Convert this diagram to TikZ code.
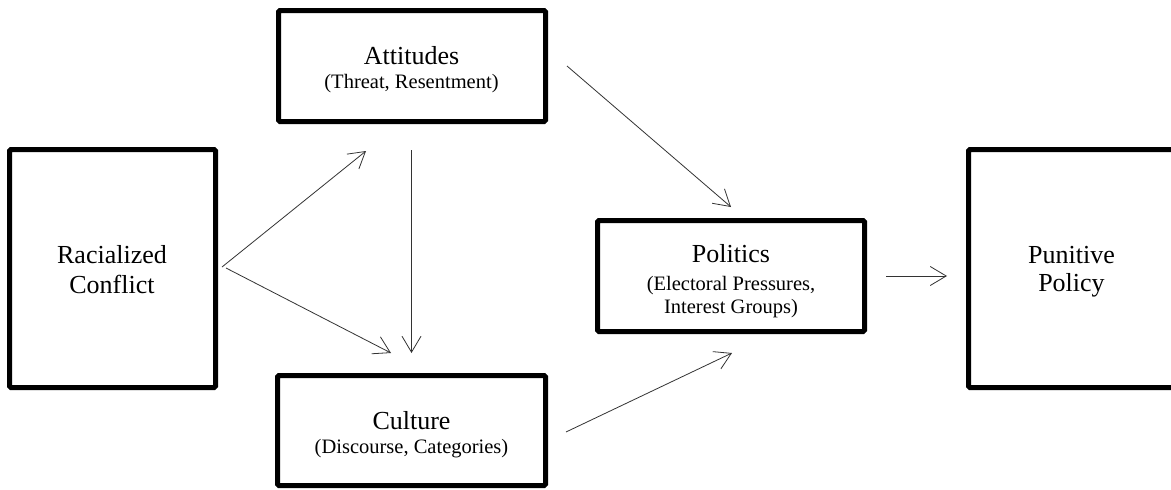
\documentclass[tikz,border=0pt]{standalone}
\usepackage{fontspec}
\setmainfont{Liberation Serif}
\usetikzlibrary{arrows.meta}
\begin{document}
\begin{tikzpicture}[x=1pt,y=-1pt,
  box/.style={draw=black, line width=5pt, rounded corners=1.5pt, inner sep=0pt, fill=white},
  ttl/.style={font=\fontsize{26}{30}\selectfont, inner sep=0pt, anchor=base},
  sub/.style={font=\fontsize{20.5}{24}\selectfont, inner sep=0pt, anchor=base},
  conn/.style={draw=black!80, line width=0.8pt, -{Straight Barb[length=16pt,width=19pt]}}]
\useasboundingbox (0,0) rectangle (1171,490);
\fill[white] (0,0) rectangle (1171,490);
% boxes
\node[box, minimum width=206pt, minimum height=238pt] (rc) at (112.5,268.5) {};
\node[box, minimum width=267pt, minimum height=111pt] (att) at (412,66) {};
\node[box, minimum width=268pt, minimum height=110pt] (cul) at (411.5,430.5) {};
\node[box, minimum width=267pt, minimum height=111pt] (pol) at (731,276) {};
\node[box, minimum width=206pt, minimum height=238pt] (pun) at (1071.5,268.5) {};
% texts
\node[ttl] (rct1) at (112,263.3) {Racialized};
\node[ttl] (rct2) at (112,293.3) {Conflict};
\node[ttl] (att1) at (411.5,64.3) {Attitudes};
\node[sub] (att2) at (411.5,88.3) {(Threat, Resentment)};
\node[ttl] (cul1) at (411.5,429) {Culture};
\node[sub] (cul2) at (411.5,453) {(Discourse, Categories)};
\node[ttl] (pol1) at (731,262.7) {Politics};
\node[sub] (pol2) at (731,290.7) {(Electoral Pressures,};
\node[sub] (pol3) at (731,313.3) {Interest Groups)};
\node[ttl] (pun1) at (1071.5,263) {Punitive};
\node[ttl] (pun2) at (1071.5,291.7) {Policy};
% connector ends
\coordinate (a1s) at (222,267);
\coordinate (a1e) at (366,151);
\coordinate (a2s) at (226,268);
\coordinate (a2e) at (391,353);
\coordinate (a3s) at (411.5,150);
\coordinate (a3e) at (411.5,353);
\coordinate (a4s) at (567,66);
\coordinate (a4e) at (731,207);
\coordinate (a5s) at (566,432);
\coordinate (a5e) at (732,353);
\coordinate (a6s) at (886,276);
\coordinate (a6e) at (947,276);
% connectors
\draw[conn] (a1s) -- (a1e);
\draw[conn] (a2s) -- (a2e);
\draw[conn] (a3s) -- (a3e);
\draw[conn] (a4s) -- (a4e);
\draw[conn] (a5s) -- (a5e);
\draw[conn] (a6s) -- (a6e);
\end{tikzpicture}
\end{document}
